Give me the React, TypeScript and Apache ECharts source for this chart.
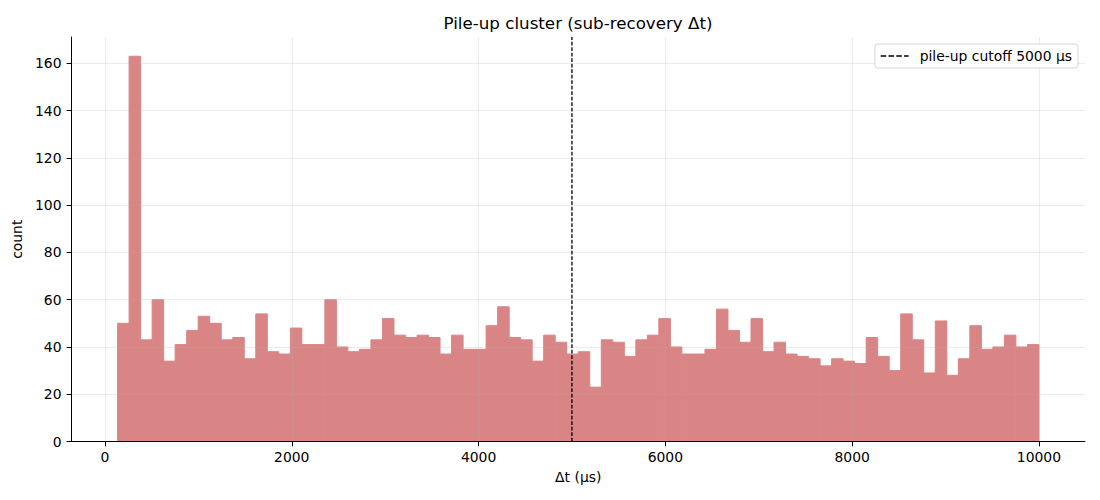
import React, { useEffect, useRef } from "react";
import * as echarts from "echarts";

const TITLE = "Pile-up cluster (sub-recovery Δt)";
const X_LABEL = "Δt (µs)";
const Y_LABEL = "count";
const LEGEND_LABEL = "pile-up cutoff 5000 µs";

const BIN_START = 135;
const BIN_END = 10000;
const COUNTS = [
  50, 163, 43, 60, 34, 41, 47, 53, 50, 43, 44, 35, 54, 38, 37, 48, 41, 41, 60, 40,
  38, 39, 43, 52, 45, 44, 45, 44, 37, 45, 39, 39, 49, 57, 44, 43, 34, 45, 42, 37,
  38, 23, 43, 42, 36, 43, 45, 52, 40, 37, 37, 39, 56, 47, 42, 52, 38, 42, 37, 36,
  35, 32, 35, 34, 33, 44, 36, 30, 54, 43, 29, 51, 28, 35, 49, 39, 40, 45, 40, 41,
];
const CUTOFF = 5000;
const X_TICKS = [0, 2000, 4000, 6000, 8000, 10000];
const Y_TICKS = [0, 20, 40, 60, 80, 100, 120, 140, 160];

const FONT = "DejaVu Sans";
const BAR_COLOR = "#da8585";
const GRID_COLOR = "rgba(176,176,176,0.3)";

export default function App() {
  const ref = useRef<HTMLDivElement>(null);

  useEffect(() => {
    if (!ref.current) return;
    const chart = echarts.init(ref.current, undefined, { renderer: "svg" });

    const binW = (BIN_END - BIN_START) / COUNTS.length;
    const histData = COUNTS.map((c, i) => [
      BIN_START + i * binW,
      BIN_START + (i + 1) * binW,
      c,
    ]);
    const span = BIN_END - BIN_START;
    const xMin = BIN_START - 0.05 * span;
    const xMax = BIN_END + 0.05 * span;
    const yMax = Math.max(...COUNTS) * 1.05;

    const axisText = { color: "#000", fontSize: 13.9, fontFamily: FONT };
    const plain = (v: number) => String(v);

    chart.setOption({
      animation: false,
      backgroundColor: "#fff",
      title: {
        text: TITLE,
        left: 578,
        textAlign: "center",
        top: 14,
        padding: 0,
        textStyle: { color: "#000", fontSize: 16.7, fontWeight: "normal", fontFamily: FONT },
      },
      legend: {
        data: [LEGEND_LABEL],
        right: 22,
        top: 44,
        padding: [5, 6, 5, 5],
        itemWidth: 28,
        itemHeight: 14,
        borderColor: "#d6d6d6",
        borderWidth: 1,
        borderRadius: 3,
        backgroundColor: "rgba(255,255,255,0.8)",
        itemStyle: { color: "rgba(0,0,0,0)", borderColor: "rgba(0,0,0,0)", borderWidth: 0 },
        lineStyle: { color: "#000", width: 1.5, type: [5.6, 2.2] },
        textStyle: { ...axisText, padding: [0, 0, 0, 6] },
      },
      grid: { left: 71.5, right: 15, top: 37, bottom: 58.5 },
      xAxis: {
        type: "value",
        min: xMin,
        max: xMax,
        z: 3,
        name: X_LABEL,
        nameLocation: "middle",
        nameGap: 28.5,
        nameTextStyle: axisText,
        axisLine: { show: true, onZero: false, lineStyle: { color: "#000", width: 1 } },
        axisTick: { show: true, length: 4.9, customValues: X_TICKS, lineStyle: { color: "#000" } },
        axisLabel: { ...axisText, customValues: X_TICKS, margin: 8, formatter: plain },
        splitLine: { show: true, lineStyle: { color: GRID_COLOR, width: 0.8 } },
      },
      yAxis: {
        type: "value",
        min: 0,
        max: yMax,
        interval: 20,
        z: 3,
        name: Y_LABEL,
        nameLocation: "middle",
        nameGap: 35,
        nameTextStyle: axisText,
        axisLine: { show: true, onZero: false, lineStyle: { color: "#000", width: 1 } },
        axisTick: { show: true, length: 4.9, customValues: Y_TICKS, lineStyle: { color: "#000" } },
        axisLabel: { ...axisText, customValues: Y_TICKS, margin: 10, formatter: plain },
        splitLine: { show: true, lineStyle: { color: GRID_COLOR, width: 0.8 } },
      },
      series: [
        {
          type: "custom",
          name: "counts",
          z: 1,
          data: histData,
          encode: { x: [0, 1], y: 2 },
          renderItem: (_params: any, api: any) => {
            const p0 = api.coord([api.value(0), 0]);
            const p1 = api.coord([api.value(1), api.value(2)]);
            return {
              type: "rect",
              shape: { x: p0[0], y: p1[1], width: p1[0] - p0[0], height: p0[1] - p1[1] },
              style: { fill: BAR_COLOR, stroke: BAR_COLOR, lineWidth: 1 },
            };
          },
        },
        {
          type: "line",
          name: LEGEND_LABEL,
          z: 5,
          symbol: "none",
          data: [
            [CUTOFF, 0],
            [CUTOFF, yMax],
          ],
          lineStyle: { color: "#000", width: 1.3, type: [3.8, 1.7] },
          itemStyle: { color: "#000" },
        },
      ],
    });

    return () => chart.dispose();
  }, []);

  return (
    <div
      ref={ref}
      style={{ position: "fixed", left: 0, top: 0, width: 1100, height: 500, background: "#fff" }}
    />
  );
}
